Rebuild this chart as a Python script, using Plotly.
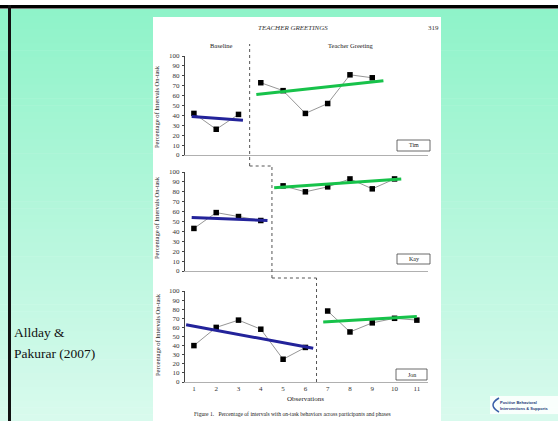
import plotly.graph_objects as go

W, H = 558, 421

# ---------------- data ----------------
obs_ticks = list(range(1, 12))
y_ticks = list(range(0, 101, 10))

tim_base_x = [1, 2, 3]
tim_base_y = [42, 26, 41]
tim_treat_x = [4, 5, 6, 7, 8, 9]
tim_treat_y = [73, 65, 42, 52, 81, 78]
tim_base_trend_x = [0.9, 3.2]
tim_base_trend_y = [39, 35]
tim_treat_trend_x = [3.8, 9.5]
tim_treat_trend_y = [61, 75]

kay_base_x = [1, 2, 3, 4]
kay_base_y = [43, 59, 55, 51]
kay_treat_x = [5, 6, 7, 8, 9, 10]
kay_treat_y = [86, 80, 85, 93, 83, 93]
kay_base_trend_x = [0.9, 4.3]
kay_base_trend_y = [54, 51]
kay_treat_trend_x = [4.6, 10.3]
kay_treat_trend_y = [84, 93]

jon_base_x = [1, 2, 3, 4, 5, 6]
jon_base_y = [40, 60, 68, 58, 25, 38]
jon_treat_x = [7, 8, 9, 10, 11]
jon_treat_y = [78, 55, 65, 70, 68]
jon_base_trend_x = [0.65, 6.35]
jon_base_trend_y = [63, 37]
jon_treat_trend_x = [6.8, 11.0]
jon_treat_trend_y = [66, 72]

names = ["Tim", "Kay", "Jon"]
phase_changes = [3.5, 4.5, 6.5]

# ---------------- helpers ----------------
def py(p):
    return 1 - p / H

def px(p):
    return p / W

x_dom = [px(185), px(428)]
y_doms = [[py(155), py(56)], [py(271), py(172)], [py(382), py(291)]]

fig = go.Figure()

panels = [
    (tim_base_x, tim_base_y, tim_treat_x, tim_treat_y,
     tim_base_trend_x, tim_base_trend_y, tim_treat_trend_x, tim_treat_trend_y),
    (kay_base_x, kay_base_y, kay_treat_x, kay_treat_y,
     kay_base_trend_x, kay_base_trend_y, kay_treat_trend_x, kay_treat_trend_y),
    (jon_base_x, jon_base_y, jon_treat_x, jon_treat_y,
     jon_base_trend_x, jon_base_trend_y, jon_treat_trend_x, jon_treat_trend_y),
]

BLUE = "#23239a"
GREEN = "#17c24a"
for i, (bx, byv, tx, ty, btx, bty, ttx, tty) in enumerate(panels):
    xa = "x" if i == 0 else f"x{i+1}"
    ya = "y" if i == 0 else f"y{i+1}"
    for xs, ys in [(bx, byv), (tx, ty)]:
        fig.add_trace(go.Scatter(x=xs, y=ys, mode="lines+markers", xaxis=xa, yaxis=ya,
                                 line=dict(color="#8a8a8a", width=0.9),
                                 marker=dict(symbol="square", size=5.5, color="black"),
                                 showlegend=False, cliponaxis=False, hoverinfo="skip"))
    fig.add_trace(go.Scatter(x=btx, y=bty, mode="lines", xaxis=xa, yaxis=ya,
                             line=dict(color=BLUE, width=3), showlegend=False,
                             cliponaxis=False, hoverinfo="skip"))
    fig.add_trace(go.Scatter(x=ttx, y=tty, mode="lines", xaxis=xa, yaxis=ya,
                             line=dict(color=GREEN, width=3), showlegend=False,
                             cliponaxis=False, hoverinfo="skip"))

axis_font = dict(family="Liberation Serif", size=7, color="#333")
layout_axes = {}
for i in range(3):
    xs = "xaxis" if i == 0 else f"xaxis{i+1}"
    ys = "yaxis" if i == 0 else f"yaxis{i+1}"
    ya = "y" if i == 0 else f"y{i+1}"
    xa = "x" if i == 0 else f"x{i+1}"
    layout_axes[xs] = dict(domain=x_dom, range=[0.6, 11.5], anchor=ya,
                           showgrid=False, zeroline=False, showline=True,
                           linecolor="#b0b0b0", linewidth=1, automargin=False,
                           tickvals=obs_ticks, showticklabels=(i == 2),
                           ticks="", tickfont=axis_font)
    layout_axes[ys] = dict(domain=y_doms[i], range=[0, 100], anchor=xa,
                           showgrid=False, zeroline=False, showline=True,
                           linecolor="#444", linewidth=1, ticks="outside", automargin=False,
                           ticklen=2, tickcolor="#444", tickvals=y_ticks,
                           tickfont=axis_font, ticklabelstandoff=1)

shapes = []
# green gradient background
y0 = 9
n = 60
top = (143, 243, 201)
bot = (216, 250, 237)
for k in range(n):
    a = y0 + (H - y0) * k / n
    b = y0 + (H - y0) * (k + 1) / n + 0.6
    t = k / (n - 1)
    c = tuple(int(round(top[j] + (bot[j] - top[j]) * t)) for j in range(3))
    shapes.append(dict(type="rect", xref="paper", yref="paper", x0=0, x1=1,
                       y0=py(min(b, H)), y1=py(a), line=dict(width=0),
                       fillcolor=f"rgb{c}", layer="below"))
# black frame lines
shapes.append(dict(type="rect", xref="paper", yref="paper", x0=0, x1=1,
                   y0=py(8.5), y1=py(5), line=dict(width=0), fillcolor="black", layer="below"))
shapes.append(dict(type="rect", xref="paper", yref="paper", x0=px(8), x1=px(11),
                   y0=0, y1=py(5), line=dict(width=0), fillcolor="#111", layer="below"))
# white scan area
shapes.append(dict(type="rect", xref="paper", yref="paper", x0=px(153), x1=px(441),
                   y0=0, y1=py(17), line=dict(width=0), fillcolor="white", layer="below"))

# phase change lines (dashed staircase)
dash = dict(color="#555", width=1, dash="dot")
p1, p2, p3 = phase_changes
shapes += [
    dict(type="line", xref="x", yref="paper", x0=p1, x1=p1, y0=py(166), y1=py(44), line=dash),
    dict(type="line", xref="x", yref="paper", x0=p1, x1=p2, y0=py(166), y1=py(166), line=dash),
    dict(type="line", xref="x", yref="paper", x0=p2, x1=p2, y0=py(278), y1=py(166), line=dash),
    dict(type="line", xref="x", yref="paper", x0=p2, x1=p3, y0=py(278), y1=py(278), line=dash),
    dict(type="line", xref="x", yref="paper", x0=p3, x1=p3, y0=py(382), y1=py(278), line=dash),
]

# name boxes
boxes = [(397, 430, 140, 151), (397, 430, 254, 264), (396, 427, 369, 380)]
annotations = []
for (bx0, bx1, by0, by1), nm in zip(boxes, names):
    shapes.append(dict(type="rect", xref="paper", yref="paper", x0=px(bx0), x1=px(bx1),
                       y0=py(by1), y1=py(by0), line=dict(color="#444", width=0.8),
                       fillcolor="white"))
    annotations.append(dict(xref="paper", yref="paper", x=px((bx0 + bx1) / 2), y=py((by0 + by1) / 2),
                            text=nm, showarrow=False, font=dict(family="Liberation Serif", size=6, color="#222"),
                            xanchor="center", yanchor="middle"))

# logo
shapes.append(dict(type="rect", xref="paper", yref="paper", x0=px(490), x1=px(558),
                   y0=py(414), y1=py(396), line=dict(width=0), fillcolor="rgba(255,255,255,0.85)"))
shapes.append(dict(type="path", xref="paper", yref="paper",
                   path=f"M {px(499)},{py(398)} Q {px(487)},{py(405)} {px(499)},{py(412)}",
                   line=dict(color="#3a5fa8", width=1.5)))

serif = "Liberation Serif"
def ann(x, y, text, size, anchor="center", italic=False, color="#222", angle=0, fam=serif):
    t = f"<i>{text}</i>" if italic else text
    annotations.append(dict(xref="paper", yref="paper", x=px(x), y=py(y), text=t,
                            showarrow=False, xanchor=anchor, yanchor="middle", textangle=angle,
                            font=dict(family=fam, size=size, color=color)))

ann(293, 28, "TEACHER GREETINGS", 7, italic=True, color="#333")
ann(433, 28, "319", 7, color="#333")
ann(221, 45, "Baseline", 6.5)
ann(351, 45, "Teacher Greeting", 6.5)
for yc in [107, 218, 335]:
    ann(157, yc, "Percentage of Intervals On-task", 6.5, angle=-90)
ann(305, 399, "Observations", 7)
ann(292, 414, "Figure 1.&nbsp;&nbsp;&nbsp;Percentage of intervals with on-task behaviors across participants and phases", 5.6)
ann(12, 332, "Allday &", 13.5, anchor="left", color="#111")
ann(12, 353, "Pakurar (2007)", 13.5, anchor="left", color="#111")
ann(498, 402, "<b>Positive Behavioral</b>", 4, anchor="left", color="#1d3b78", fam="Liberation Sans")
ann(498, 408, "<b>Interventions &amp; Supports</b>", 4, anchor="left", color="#1d3b78", fam="Liberation Sans")

fig.update_layout(width=W, height=H, autosize=False,
                  margin=dict(l=0, r=0, t=0, b=0, pad=0, autoexpand=False),
                  paper_bgcolor="white", plot_bgcolor="rgba(0,0,0,0)",
                  shapes=shapes, annotations=annotations, showlegend=False,
                  hovermode=False,
                  **layout_axes)

post = ("document.documentElement.style.margin='0px';"
        "document.body.style.margin='0px';document.body.style.overflow='hidden';"
        "document.body.style.background='rgb(216,250,237)';"
        "var d=document.getElementsByClassName('plotly-graph-div')[0];"
        "d.style.position='fixed';d.style.top='0px';d.style.left='0px';")
fig.write_html("out.html", config={"displayModeBar": False}, post_script=post)
